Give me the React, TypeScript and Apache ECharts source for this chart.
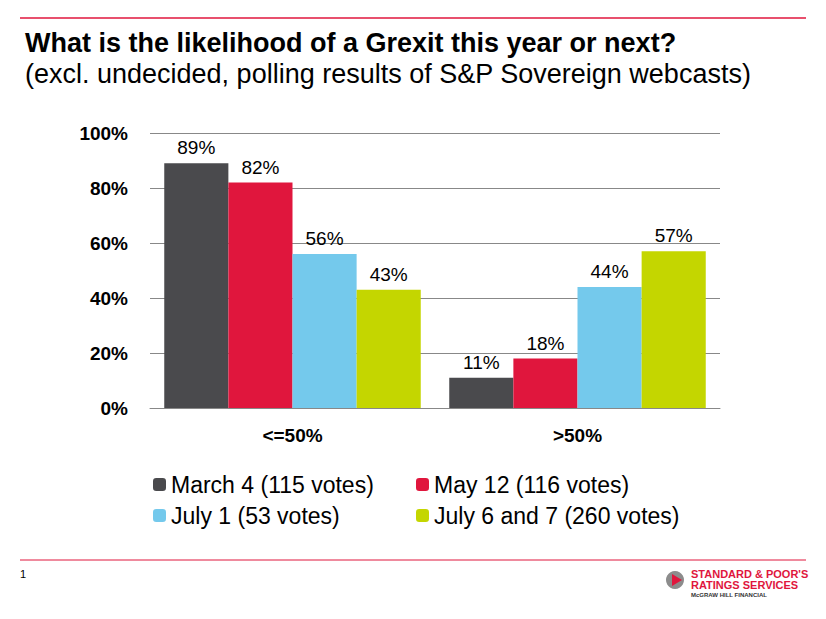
import { useEffect, useRef, type JSX } from "react";
import * as echarts from "echarts";

const categories = ["<=50%", ">50%"];
const seriesNames = ["March 4 (115 votes)", "May 12 (116 votes)", "July 1 (53 votes)", "July 6 and 7 (260 votes)"];
const seriesValues = [
  [89, 11],
  [82, 18],
  [56, 44],
  [43, 57],
];
const colors = ["#4a4a4d", "#e0163d", "#74c9ec", "#c4d600"];

const FONT = "Arial, 'Liberation Sans', sans-serif";

function App(): JSX.Element {
  const ref = useRef<HTMLDivElement>(null);

  useEffect(() => {
    if (!ref.current) return;
    const chart = echarts.init(ref.current, undefined, { renderer: "svg" });
    chart.setOption({
      animation: false,
      textStyle: { fontFamily: FONT },
      title: [
        {
          text: "What is the likelihood of a Grexit this year or next?",
          left: 20,
          top: 24,
          textStyle: { fontSize: 27, fontWeight: "bold", color: "#000", fontFamily: FONT },
        },
        {
          text: "(excl. undecided, polling results of S&P Sovereign webcasts)",
          left: 20,
          top: 55,
          textStyle: { fontSize: 27, fontWeight: "normal", color: "#000", fontFamily: FONT },
        },
      ],
      grid: { left: 150, right: 106, top: 133, bottom: 211 },
      xAxis: {
        type: "category",
        data: categories,
        axisTick: { show: false },
        axisLine: { lineStyle: { color: "#888" } },
        axisLabel: { fontSize: 19, fontWeight: "bold", color: "#000", margin: 18 },
      },
      yAxis: {
        type: "value",
        min: 0,
        max: 100,
        interval: 20,
        axisLabel: { formatter: "{value}%", fontSize: 19, fontWeight: "bold", color: "#000", margin: 22 },
        splitLine: { lineStyle: { color: "#888" } },
      },
      legend: [
        {
          data: [seriesNames[0], seriesNames[2]],
          orient: "vertical",
          left: 148,
          top: 468,
          itemGap: 8,
          itemWidth: 13,
          itemHeight: 13,
          textStyle: { fontSize: 23, color: "#000" },
        },
        {
          data: [seriesNames[1], seriesNames[3]],
          orient: "vertical",
          left: 411,
          top: 468,
          itemGap: 8,
          itemWidth: 13,
          itemHeight: 13,
          textStyle: { fontSize: 23, color: "#000" },
        },
      ],
      series: seriesValues.map((v, i) => ({
        name: seriesNames[i],
        type: "bar",
        data: v,
        barGap: "0%",
        barCategoryGap: "10%",
        itemStyle: { color: colors[i] },
        label: { show: true, position: "top", formatter: "{c}%", fontSize: 19, color: "#000", distance: 6 },
      })),
      graphic: [
        { type: "line", shape: { x1: 20, y1: 18, x2: 806, y2: 18 }, style: { stroke: "#e0163d", lineWidth: 1.5 } },
        { type: "line", shape: { x1: 20, y1: 560, x2: 806, y2: 560 }, style: { stroke: "#e0163d", lineWidth: 1 } },
        { type: "text", left: 20, top: 568, style: { text: "1", fontSize: 11, fill: "#000", fontFamily: FONT } },
        { type: "circle", shape: { cx: 675, cy: 580, r: 9 }, style: { fill: "#8c8c8c" } },
        { type: "polygon", shape: { points: [[672, 574], [672, 586], [682, 580]] }, style: { fill: "#e0163d" } },
        { type: "text", left: 691, top: 568, style: { text: "STANDARD & POOR'S", fontSize: 11, fontWeight: "bold", fill: "#e0163d", fontFamily: FONT } },
        { type: "text", left: 691, top: 579, style: { text: "RATINGS SERVICES", fontSize: 11, fontWeight: "bold", fill: "#e0163d", fontFamily: FONT } },
        { type: "text", left: 691, top: 592, style: { text: "McGRAW HILL FINANCIAL", fontSize: 6, fontWeight: "bold", fill: "#333", fontFamily: FONT } },
      ],
    });
    return () => chart.dispose();
  }, []);

  return <div ref={ref} style={{ position: "absolute", left: 0, top: 0, width: 826, height: 619 }} />;
}

export default App;
